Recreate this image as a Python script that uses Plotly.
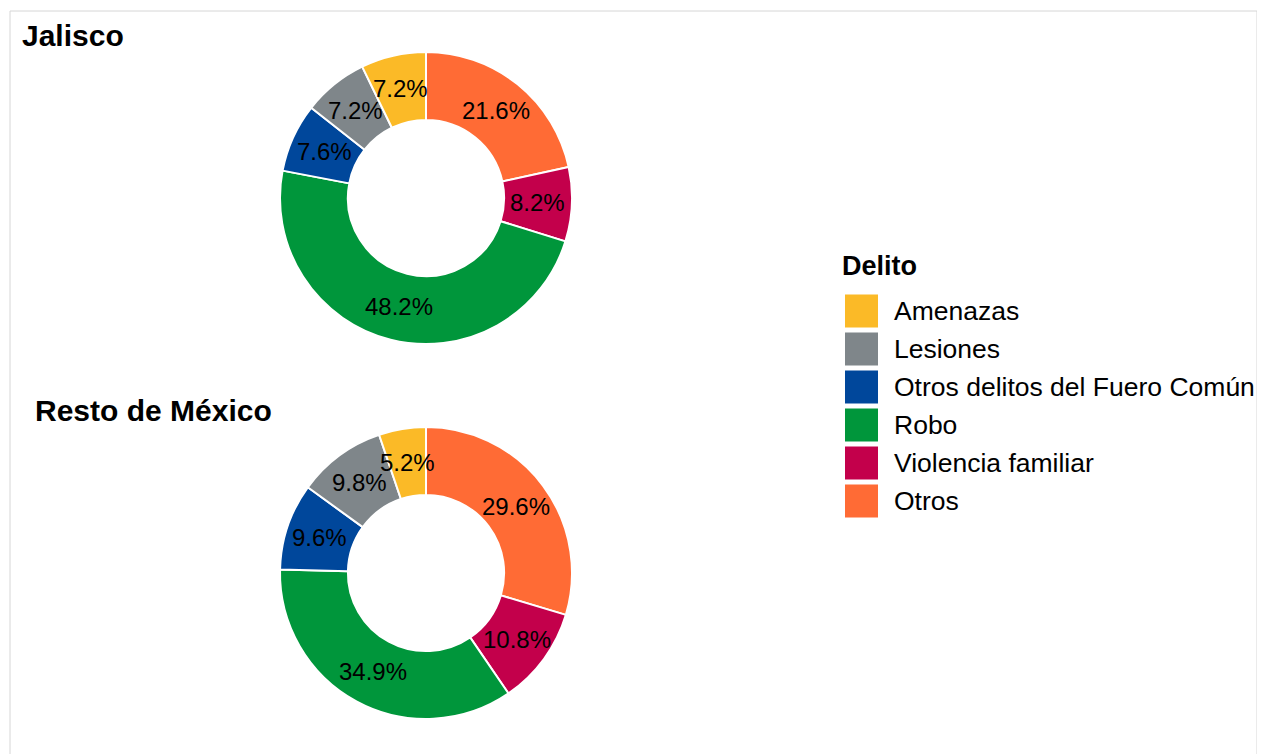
import math
import plotly.graph_objects as go

categories = ["Amenazas", "Lesiones", "Otros delitos del Fuero Común", "Robo", "Violencia familiar", "Otros"]
colors = ["#FBBA27", "#7F868A", "#00479B", "#00963B", "#C3004B", "#FF6B35"]
jalisco_values = [7.2, 7.2, 7.6, 48.2, 8.2, 21.6]
resto_values = [5.2, 9.8, 9.6, 34.9, 10.8, 29.6]
panel_titles = ["Jalisco", "Resto de México"]
legend_title = "Delito"

W, H = 1265, 754
OX, OY = 8, 8  # page body margin
FONT = "Arial, Liberation Sans, sans-serif"
R, HOLE = 146, 0.535

def px(x):
    return (x - OX) / W

def py(y):
    return (H - (y - OY)) / H

def dom(cx, cy, r):
    return dict(x=[px(cx - r), px(cx + r)], y=[py(cy + r), py(cy - r)])

fig = go.Figure()
annotations = []
for vals, (cx, cy) in [(jalisco_values, (426, 198)), (resto_values, (426, 573))]:
    # slices drawn clockwise from 12 o'clock, last category first
    fig.add_trace(go.Pie(
        labels=categories[::-1], values=vals[::-1], hole=HOLE, sort=False,
        direction="clockwise", rotation=0,
        marker=dict(colors=colors[::-1], line=dict(color="white", width=2)),
        textinfo="none", textposition="none",
        domain=dom(cx, cy, R), showlegend=False, hoverinfo="label+value",
    ))
    # percentage labels at each slice's mid-angle, mid-ring radius
    total = sum(vals)
    rmid = R * (1 + HOLE) / 2
    cum = 0.0
    for v in vals[::-1]:
        ang = 2 * math.pi * (cum + v / 2) / total
        cum += v
        annotations.append(dict(
            text="%.1f%%" % v, x=px(cx + rmid * math.sin(ang)), y=py(cy - rmid * math.cos(ang)),
            xref="paper", yref="paper", xanchor="center", yanchor="middle", showarrow=False,
            font=dict(family=FONT, size=24, color="black")))

annotations += [
    dict(text="<b>%s</b>" % panel_titles[0], x=px(20), y=py(35), xref="paper", yref="paper",
         xanchor="left", yanchor="middle", showarrow=False, font=dict(family=FONT, size=30, color="black")),
    dict(text="<b>%s</b>" % panel_titles[1], x=px(33), y=py(410), xref="paper", yref="paper",
         xanchor="left", yanchor="middle", showarrow=False, font=dict(family=FONT, size=30, color="black")),
    dict(text="<b>%s</b>" % legend_title, x=px(840), y=py(266), xref="paper", yref="paper",
         xanchor="left", yanchor="middle", showarrow=False, font=dict(family=FONT, size=27, color="black")),
]
shapes = [dict(type="rect", xref="paper", yref="paper", x0=px(10), x1=px(1257), y0=-0.05, y1=py(11),
               line=dict(color="#D6D6D6", width=1), fillcolor="rgba(0,0,0,0)", layer="below")]
for i, (cat, col) in enumerate(zip(categories, colors)):
    yc = 311 + 38 * i
    shapes.append(dict(type="rect", xref="paper", yref="paper", x0=px(845), x1=px(878),
                       y0=py(yc + 16.5), y1=py(yc - 16.5),
                       line=dict(width=0), fillcolor=col))
    annotations.append(dict(text=cat, x=px(892), y=py(yc), xref="paper", yref="paper",
                            xanchor="left", yanchor="middle", showarrow=False,
                            font=dict(family=FONT, size=26.5, color="black")))

fig.update_layout(width=W, height=H, margin=dict(l=0, r=0, t=0, b=0),
                  paper_bgcolor="white", plot_bgcolor="white",
                  annotations=annotations, shapes=shapes, font=dict(family=FONT))
fig.write_html("out.html")
